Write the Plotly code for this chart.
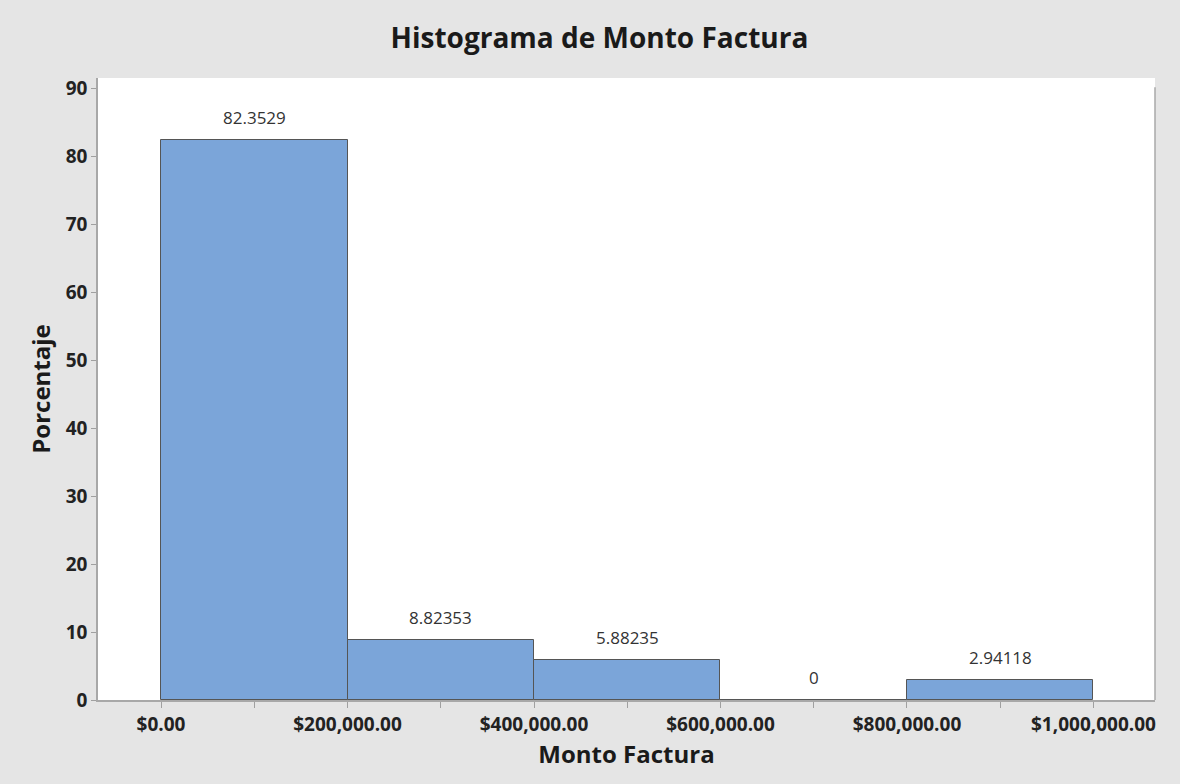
import plotly.graph_objects as go

# Histogram bins of invoice amounts (percent of invoices per bin)
bin_starts = [0, 200000, 400000, 600000, 800000]
bin_width = 200000
percentages = [82.3529, 8.82353, 5.88235, 0, 2.94118]

x_ticks = [0, 200000, 400000, 600000, 800000, 1000000]
x_tick_labels = ["$0.00", "$200,000.00", "$400,000.00", "$600,000.00",
                 "$800,000.00", "$1,000,000.00"]
y_ticks = [0, 10, 20, 30, 40, 50, 60, 70, 80, 90]

centers = [s + bin_width / 2 for s in bin_starts]
FONT = "Open Sans"

fig = go.Figure()
fig.add_trace(go.Bar(
    x=centers,
    y=percentages,
    width=[bin_width] * len(centers),
    marker=dict(color="#7BA5D9", line=dict(color="#555555", width=1)),
    hoverinfo="x+y",
))

# value labels above each bin
for c, p in zip(centers, percentages):
    fig.add_annotation(
        x=c, y=p, text=f"{p:.6g}", showarrow=False,
        yanchor="bottom", yshift=9,
        font=dict(family=FONT, size=17, color="#333333"),
    )

# right frame line of the data region
fig.add_shape(type="line", xref="paper", yref="paper",
              x0=1, x1=1, y0=0, y1=0.985,
              line=dict(color="#A8A8A8", width=1.5))

fig.update_layout(
    width=1180, height=784,
    paper_bgcolor="#E5E5E5",
    plot_bgcolor="#FFFFFF",
    margin=dict(l=98, r=25, t=78, b=84),
    showlegend=False,
    bargap=0,
    title=dict(
        text="<b>Histograma de Monto Factura</b>",
        x=0.508, xanchor="center", y=0.951, yanchor="middle",
        font=dict(family=FONT, size=28, color="#1A1A1A"),
    ),
    xaxis=dict(
        range=[-67600, 1066000],
        tickvals=x_ticks, ticktext=[f"<b>{t}</b>" for t in x_tick_labels],
        ticks="outside", ticklen=6, tickcolor="#A0A0A0",
        minor=dict(tickvals=[100000, 300000, 500000, 700000, 900000],
                   ticks="outside", ticklen=6, tickcolor="#A0A0A0"),
        showline=True, linecolor="#A8A8A8", linewidth=1.5,
        showgrid=False, zeroline=False,
        tickfont=dict(family=FONT, size=19, color="#222222"),
        title=dict(text="<b>Monto Factura</b>", standoff=4,
                   font=dict(family=FONT, size=24, color="#1A1A1A")),
    ),
    yaxis=dict(
        range=[0, 91.5],
        tickvals=y_ticks, ticktext=[f"<b>{t}</b>" for t in y_ticks],
        ticks="outside", ticklen=5, tickcolor="#A0A0A0",
        showline=True, linecolor="#A8A8A8", linewidth=1.5,
        showgrid=False, zeroline=False,
        tickfont=dict(family=FONT, size=19, color="#222222"),
        title=dict(text="<b>Porcentaje</b>", standoff=8,
                   font=dict(family=FONT, size=24, color="#1A1A1A")),
    ),
)

fig.write_html("out.html")
